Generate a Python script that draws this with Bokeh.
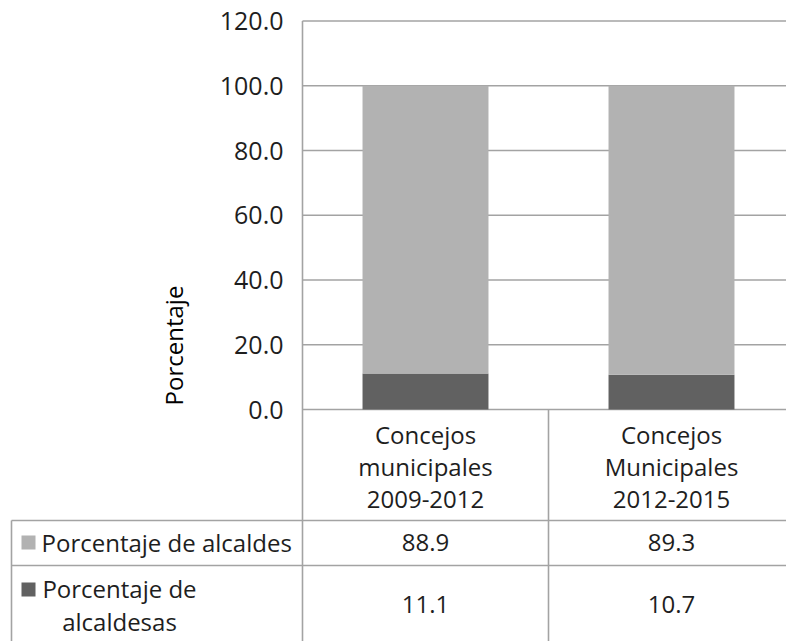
from math import pi
from bokeh.plotting import figure
from bokeh.models import Range1d, ColumnDataSource
from bokeh.core.properties import value
from bokeh.embed import file_html
from bokeh.resources import INLINE

# ---------------- data ----------------
categories = ["Concejos\nmunicipales\n2009-2012", "Concejos\nMunicipales\n2012-2015"]
series_labels = ["Porcentaje de alcaldes", "Porcentaje de\nalcaldesas"]
alcaldes = [88.9, 89.3]
alcaldesas = [11.1, 10.7]
y_ticks = [0, 20, 40, 60, 80, 100, 120]
y_title = "Porcentaje"

# ---------------- style / layout ----------------
FONT = "Open Sans"
FS = "24px"
LIGHT = "#b2b2b2"
DARK = "#616161"
LINE = "#a3a3a3"
TXT = "#1e1e1e"

W, H = 786, 641          # canvas size
CAT = 246.0              # px per category
LEFT = 302               # canvas px from left edge to value axis
BASE = 409               # canvas px from top to value 0
PXU = 3.2375             # px per percentage unit

x_start, x_end = -LEFT / CAT, (W - LEFT) / CAT
y_start, y_end = -(H - BASE) / PXU, BASE / PXU


def px(cx):  # canvas x -> data x
    return (cx - LEFT) / CAT


def py(cy):  # canvas y -> data y
    return (BASE - cy) / PXU


xs = [i + 0.5 for i in range(len(categories))]
src = ColumnDataSource(dict(x=xs, alcaldes=alcaldes, alcaldesas=alcaldesas))

p = figure(width=W, height=H, output_backend="svg", toolbar_location=None,
           x_range=Range1d(x_start, x_end), y_range=Range1d(y_start, y_end),
           x_axis_location=None, y_axis_location=None, min_border=0)
p.grid.visible = False
p.outline_line_color = None
p.background_fill_color = "white"
p.border_fill_color = "white"

# gridlines (0..120) across the plot area
p.segment(x0=[0] * len(y_ticks), y0=y_ticks, x1=[x_end] * len(y_ticks), y1=y_ticks,
          line_color=LINE, line_width=1.6)

# bars
p.vbar_stack(["alcaldesas", "alcaldes"], x="x", width=0.512, color=[DARK, LIGHT],
             line_color=None, source=src)

# value-axis tick labels
p.text(x=[px(283)] * len(y_ticks), y=y_ticks, text=[f"{v:.1f}" for v in y_ticks],
       text_align="right", text_baseline="middle",
       text_font=value(FONT), text_font_size=value("25px"), text_color=TXT)

# axis title
p.text(x=[px(173)], y=[py(345)], text=[y_title], angle=pi / 2,
       text_align="center", text_baseline="middle",
       text_font=value(FONT), text_font_size=value(FS), text_color="#000000")

# ---------------- data table ----------------
left_edge = px(11)
row_lines = [py(520), py(565)]
p.segment(x0=[left_edge] * 2, y0=row_lines, x1=[x_end] * 2, y1=row_lines,
          line_color=LINE, line_width=1.6)
vx = [left_edge] + [float(i) for i in range(len(categories))]
vy0 = [row_lines[0], max(y_ticks)] + [0] * (len(categories) - 1)
p.segment(x0=vx, y0=vy0, x1=vx, y1=[y_start] * len(vx), line_color=LINE, line_width=1.6)

p.text(x=xs, y=[py(466)] * len(xs), text=categories, text_align="center",
       text_baseline="middle", text_font=value(FONT), text_font_size=value(FS),
       text_color=TXT, text_line_height=0.98)

row_y = [py(542), py(604)]
p.scatter(x=[px(28)] * 2, y=[py(542), py(589)], marker="square", size=14,
          color=[LIGHT, DARK], line_color=None)
p.text(x=[px(41)], y=[row_y[0]], text=[series_labels[0]],
       text_align="left", text_baseline="middle",
       text_font=value(FONT), text_font_size=value(FS), text_color=TXT)
p.text(x=[px(119)], y=[row_y[1]], text=[series_labels[1]],
       text_align="center", text_baseline="middle",
       text_font=value(FONT), text_font_size=value(FS), text_color=TXT, text_line_height=1.0)

for vals, yy in zip([alcaldes, alcaldesas], row_y):
    p.text(x=xs, y=[yy] * len(xs), text=[f"{v:.1f}" for v in vals],
           text_align="center", text_baseline="middle",
           text_font=value(FONT), text_font_size=value(FS), text_color=TXT)

open("out.html", "w").write(file_html(p, INLINE))
